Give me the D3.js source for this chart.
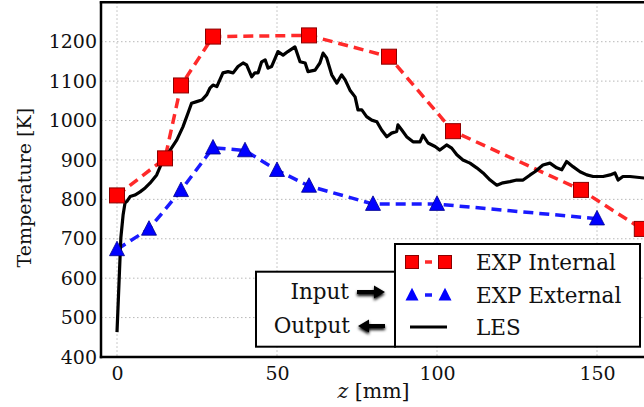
<!DOCTYPE html>
<html><head><meta charset="utf-8">
<script src="https://cdn.jsdelivr.net/npm/d3@7"></script>
<style>body{margin:0;background:#fff}svg{display:block}</style>
</head><body>
<script>
const xTicks = [0, 50, 100, 150];
const yTicks = [400, 500, 600, 700, 800, 900, 1000, 1100, 1200];

const intZ = [0, 15, 20, 30, 60, 85, 105, 145, 164];
const intT = [810, 904, 1089, 1213, 1216, 1162, 973, 824, 725];

const extZ = [0, 10, 20, 30, 40, 50, 60, 80, 100, 150];
const extT = [673, 725, 823, 931, 924, 874, 834, 788, 788, 751];

const lesZ = [0, 1.2, 1.9, 2.5, 3.1, 4.1, 5.6, 7.2, 8.8, 10.3, 12.4, 14.4, 16.6, 18.7, 20.6, 22.2, 23.3, 24.9, 26.5, 28.0, 29.1, 30.0, 31.2, 33.1, 34.7, 36.3, 37.8, 39.4, 40.5, 42.1, 43.1, 44.1, 45.2, 46.3, 47.2, 48.3, 50.3, 51.9, 53.4, 55.6, 57.2, 58.8, 59.7, 61.9, 63.4, 64.4, 65.5, 67.1, 68.7, 70.2, 71.3, 72.8, 74.4, 75.3, 76.5, 78.0, 79.6, 81.2, 82.7, 84.3, 85.8, 87.4, 87.8, 89.0, 90.5, 92.5, 94.7, 95.6, 97.2, 99.4, 100.9, 103.0, 104.6, 106.2, 108.1, 110.3, 112.4, 114.4, 116.6, 118.7, 120.6, 122.8, 124.9, 126.9, 129.1, 130.6, 133.1, 135.3, 137.4, 139.0, 140.5, 142.5, 144.7, 146.8, 148.8, 151.9, 154.1, 155.6, 156.6, 158.1, 160.3, 166];
const lesT = [463, 702, 760, 791, 795, 807, 811, 819, 829, 841, 862, 900, 925, 951, 984, 1019, 1044, 1048, 1052, 1065, 1083, 1090, 1086, 1121, 1124, 1121, 1137, 1146, 1141, 1111, 1121, 1121, 1149, 1154, 1133, 1137, 1175, 1166, 1175, 1187, 1149, 1146, 1124, 1128, 1146, 1171, 1159, 1116, 1095, 1116, 1103, 1077, 1060, 1027, 1027, 1010, 1001, 997, 976, 959, 968, 972, 989, 976, 959, 946, 946, 963, 943, 934, 925, 938, 930, 913, 900, 892, 880, 867, 849, 836, 842, 845, 849, 849, 862, 870, 887, 892, 880, 875, 896, 883, 870, 862, 858, 858, 862, 867, 849, 858, 858, 853];

const legendLabels = ["EXP Internal", "EXP External", "LES"];

const W = 644, H = 407;
const L = 101, R = 650, T = 2.3, B = 357;
const FONT = "DejaVu Serif";
const RED = "#ff0000", BLUE = "#0000ff";

const svg = d3.select("body").append("svg").attr("width", W).attr("height", H)
  .style("font-family", FONT);

const x = d3.scaleLinear().domain([-5, 166.56]).range([L, R]);
const y = d3.scaleLinear().domain([400, 1300]).range([B, T]);

const defs = svg.append("defs");
defs.append("clipPath").attr("id", "clip").append("rect")
  .attr("x", L).attr("y", T).attr("width", R - L).attr("height", B - T);
const f = defs.append("filter").attr("id", "shadow").attr("x", "-30%").attr("y", "-60%").attr("width", "160%").attr("height", "220%");
f.append("feGaussianBlur").attr("in", "SourceAlpha").attr("stdDeviation", 1.5).attr("result", "b");
f.append("feOffset").attr("in", "b").attr("dx", 0).attr("dy", 1.5).attr("result", "o");
const fm = f.append("feMerge");
fm.append("feMergeNode").attr("in", "o");
fm.append("feMergeNode").attr("in", "SourceGraphic");

// grid
const grid = svg.append("g").attr("stroke", "#b8b8b8").attr("stroke-width", 1).attr("stroke-dasharray", "1.5,2.5");
grid.selectAll("line.gx").data(xTicks).join("line")
  .attr("x1", d => x(d)).attr("x2", d => x(d)).attr("y1", T).attr("y2", B);
grid.selectAll("line.gy").data(yTicks.filter(d => d > 400)).join("line")
  .attr("y1", d => y(d)).attr("y2", d => y(d)).attr("x1", L).attr("x2", R);

// axes via d3
const xAxis = d3.axisBottom(x).tickValues(xTicks).tickFormat(d3.format("d")).tickSize(0).tickPadding(10);
const gx = svg.append("g").attr("transform", `translate(0,${B})`).call(xAxis);
gx.select(".domain").remove();
gx.selectAll("text").attr("font-family", FONT).attr("font-size", 19).attr("fill", "#111");

const yAxis = d3.axisLeft(y).tickValues(yTicks).tickFormat(d3.format("d")).tickSize(0).tickPadding(4);
const gy = svg.append("g").attr("transform", `translate(${L},0)`).call(yAxis);
gy.select(".domain").remove();
gy.selectAll("text").attr("font-family", FONT).attr("font-size", 19).attr("fill", "#111");

// data
const plot = svg.append("g").attr("clip-path", "url(#clip)");
const line = d3.line().x(d => x(d[0])).y(d => y(d[1]));

const intData = intZ.map((z, i) => [z, intT[i]]);
const extData = extZ.map((z, i) => [z, extT[i]]);
const lesData = lesZ.map((z, i) => [z, lesT[i]]);

plot.append("path").datum(intData).attr("d", line).attr("fill", "none")
  .attr("stroke", "#ff2a2a").attr("stroke-width", 3.5).attr("stroke-dasharray", "10,6");
plot.append("path").datum(extData).attr("d", line).attr("fill", "none")
  .attr("stroke", "#1a1aff").attr("stroke-width", 3.5).attr("stroke-dasharray", "10,6");
plot.append("path").datum(lesData).attr("d", line).attr("fill", "none")
  .attr("stroke", "#000").attr("stroke-width", 3.2).attr("stroke-linejoin", "round");

const sq = 15;
plot.selectAll("rect.m").data(intData).join("rect")
  .attr("x", d => x(d[0]) - sq / 2).attr("y", d => y(d[1]) - sq / 2)
  .attr("width", sq).attr("height", sq).attr("fill", RED).attr("stroke", "#8b0000").attr("stroke-width", 1);

const tri = (cx, cy, s) => `M${cx},${cy - s * 0.55}L${cx + s / 2},${cy + s * 0.42}L${cx - s / 2},${cy + s * 0.42}Z`;
plot.selectAll("path.t").data(extData).join("path")
  .attr("d", d => tri(x(d[0]), y(d[1]), 15)).attr("fill", BLUE).attr("stroke", "#00008b").attr("stroke-width", 0.8);

// frame
svg.append("line").attr("x1", L).attr("x2", L).attr("y1", T - 1).attr("y2", B + 1.2).attr("stroke", "#000").attr("stroke-width", 2.5);
svg.append("line").attr("x1", L - 1.2).attr("x2", W).attr("y1", T).attr("y2", T).attr("stroke", "#000").attr("stroke-width", 2.5);
svg.append("line").attr("x1", L - 1.2).attr("x2", W).attr("y1", B).attr("y2", B).attr("stroke", "#000").attr("stroke-width", 2.5);

// axis labels
svg.append("text").attr("transform", `translate(24,${(T + B) / 2 + 8}) rotate(-90)`)
  .attr("text-anchor", "middle").attr("dominant-baseline", "central")
  .attr("font-size", 19).attr("fill", "#111").text("Temperature [K]");
const xl = svg.append("text").attr("x", (L + R) / 2 - 2).attr("y", 398)
  .attr("text-anchor", "middle").attr("font-size", 20.5).attr("fill", "#111");
xl.append("tspan").attr("font-style", "italic").text("z");
xl.append("tspan").text(" [mm]");

// legend boxes
const lg = svg.append("g");
lg.append("rect").attr("x", 256).attr("y", 271.7).attr("width", 139).attr("height", 75)
  .attr("fill", "#fff").attr("stroke", "#000").attr("stroke-width", 2);
lg.append("rect").attr("x", 395).attr("y", 244).attr("width", 245).attr("height", 102.7)
  .attr("fill", "#fff").attr("stroke", "#000").attr("stroke-width", 2);

const rowY = [262, 295, 327];
// internal
lg.append("line").attr("x1", 412).attr("x2", 445).attr("y1", rowY[0]).attr("y2", rowY[0])
  .attr("stroke", "#ff2a2a").attr("stroke-width", 3.5).attr("stroke-dasharray", "0,13,7,13");
[412, 445].forEach(cx => lg.append("rect").attr("x", cx - 6.5).attr("y", rowY[0] - 6.5)
  .attr("width", 13).attr("height", 13).attr("fill", RED).attr("stroke", "#8b0000").attr("stroke-width", 1));
// external
lg.append("line").attr("x1", 412).attr("x2", 445).attr("y1", rowY[1]).attr("y2", rowY[1])
  .attr("stroke", "#1a1aff").attr("stroke-width", 3.5).attr("stroke-dasharray", "0,13,7,13");
[412, 445].forEach(cx => lg.append("path").attr("d", tri(cx, rowY[1], 13)).attr("fill", BLUE));
// LES
lg.append("line").attr("x1", 410).attr("x2", 447).attr("y1", rowY[2]).attr("y2", rowY[2])
  .attr("stroke", "#000").attr("stroke-width", 3);

lg.selectAll("text.lab").data(legendLabels).join("text")
  .attr("x", 476).attr("y", (d, i) => rowY[i]).attr("dominant-baseline", "central")
  .attr("font-size", 21.5).attr("fill", "#111").text(d => d);

// Input / Output
lg.append("text").attr("x", 349).attr("y", 291).attr("text-anchor", "end").attr("dominant-baseline", "central")
  .attr("font-size", 21.5).attr("fill", "#111").text("Input");
lg.append("text").attr("x", 350).attr("y", 325).attr("text-anchor", "end").attr("dominant-baseline", "central")
  .attr("font-size", 21.5).attr("fill", "#111").text("Output");
// arrows
lg.append("path").attr("filter", "url(#shadow)").attr("fill", "#000")
  .attr("d", "M357,290L374,290L374,285.5L385,292L374,298.5L374,294L357,294Z");
lg.append("path").attr("filter", "url(#shadow)").attr("fill", "#000")
  .attr("d", "M385,324L369,324L369,319.5L358,326L369,332.5L369,328L385,328Z");
</script>
</body></html>
